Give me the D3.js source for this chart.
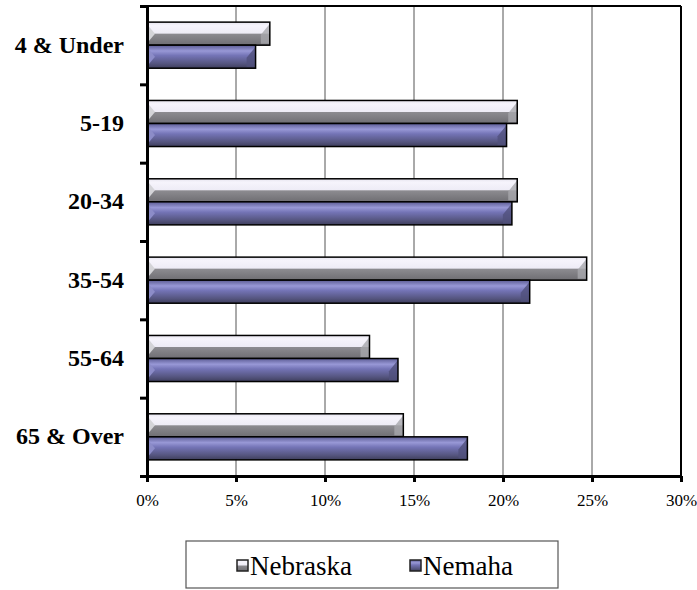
<!DOCTYPE html>
<html>
<head>
<meta charset="utf-8">
<script src="https://cdn.jsdelivr.net/npm/d3@7"></script>
<style>
  body { margin: 0; background: #fff; }
  svg { display: block; font-family: "Liberation Serif", "Times New Roman", serif; }
</style>
</head>
<body>
<svg id="chart"></svg>
<script>
const categories = ["4 & Under", "5-19", "20-34", "35-54", "55-64", "65 & Over"];
const seriesNames = ["Nebraska", "Nemaha"];
const nebraska = [6.9, 20.8, 20.8, 24.7, 12.5, 14.4];
const nemaha = [6.1, 20.2, 20.5, 21.5, 14.1, 18.0];
const xTicks = [0, 5, 10, 15, 20, 25, 30];

const data = categories.map((c, i) => ({
  cat: c,
  values: [
    { key: "Nebraska", value: nebraska[i] },
    { key: "Nemaha", value: nemaha[i] }
  ]
}));

const W = 697, H = 590;
const margin = { top: 6, right: 16, bottom: 114, left: 147 };
const width = W - margin.left - margin.right;
const height = H - margin.top - margin.bottom;

const svg = d3.select("#chart").attr("width", W).attr("height", H);

// gradients for the bevelled bars
const defs = svg.append("defs");
const gNeb = defs.append("linearGradient").attr("id", "gNeb").attr("x1", 0).attr("y1", 0).attr("x2", 0).attr("y2", 1);
gNeb.append("stop").attr("offset", "0%").attr("stop-color", "#e6e4ee");
gNeb.append("stop").attr("offset", "15%").attr("stop-color", "#f6f4fc");
gNeb.append("stop").attr("offset", "48%").attr("stop-color", "#eeecf6");
gNeb.append("stop").attr("offset", "52%").attr("stop-color", "#8c8b90");
gNeb.append("stop").attr("offset", "100%").attr("stop-color", "#6f6e73");

const gNem = defs.append("linearGradient").attr("id", "gNem").attr("x1", 0).attr("y1", 0).attr("x2", 0).attr("y2", 1);
gNem.append("stop").attr("offset", "0%").attr("stop-color", "#5c5c94");
gNem.append("stop").attr("offset", "25%").attr("stop-color", "#9898d6");
gNem.append("stop").attr("offset", "45%").attr("stop-color", "#7474b6");
gNem.append("stop").attr("offset", "80%").attr("stop-color", "#55557f");
gNem.append("stop").attr("offset", "100%").attr("stop-color", "#3e3e5c");

const g = svg.append("g").attr("transform", `translate(${margin.left},${margin.top})`);

const x = d3.scaleLinear().domain([0, 30]).range([0, width]);
const y0 = d3.scaleBand().domain(categories).range([0, height]).padding(0);
const y1 = d3.scaleBand().domain(seriesNames).range([0, y0.bandwidth()]).paddingInner(0).paddingOuter(0.7);
const yEdges = d3.scaleLinear().domain([0, categories.length]).range([0, height]);

// gridlines
g.append("g")
  .selectAll("line")
  .data(xTicks.filter(t => t > 0 && t < 30))
  .enter().append("line")
  .attr("x1", d => x(d)).attr("x2", d => x(d))
  .attr("y1", 0).attr("y2", height)
  .attr("stroke", "#555")
  .attr("stroke-width", 1);

// plot frame top and right
g.append("line").attr("x1", 0).attr("x2", width).attr("y1", 0).attr("y2", 0)
  .attr("stroke", "#000").attr("stroke-width", 2);
g.append("line").attr("x1", width).attr("x2", width).attr("y1", 0).attr("y2", height)
  .attr("stroke", "#000").attr("stroke-width", 2);

// bars
const groups = g.selectAll(".grp")
  .data(data)
  .enter().append("g")
  .attr("class", "grp")
  .attr("transform", d => `translate(0,${y0(d.cat)})`);

const bars = groups.selectAll(".bar")
  .data(d => d.values)
  .enter().append("g")
  .attr("class", "bar");

bars.append("rect")
  .attr("x", 0)
  .attr("y", d => y1(d.key))
  .attr("width", d => x(d.value))
  .attr("height", y1.bandwidth())
  .attr("fill", d => d.key === "Nebraska" ? "url(#gNeb)" : "url(#gNem)");

// right-end bevel
bars.append("path")
  .attr("d", d => {
    const xe = x(d.value), yt = y1(d.key) + 1.5, ym = y1(d.key) + y1.bandwidth() * 0.55, yb = y1(d.key) + y1.bandwidth() - 1.5;
    return `M${xe},${yt} L${xe},${yb} L${xe - 9},${yb} L${xe - 9},${ym} Z`;
  })
  .attr("fill", d => d.key === "Nebraska" ? "#a8a7ad" : "#50507c")
  .attr("opacity", 0.8);

// left-end bevel
bars.append("path")
  .attr("d", d => {
    const yt = y1(d.key) + 2, ym = y1(d.key) + y1.bandwidth() * 0.5, yb = y1(d.key) + y1.bandwidth() - 2;
    return `M0,${yt} L8,${ym} L0,${yb} Z`;
  })
  .attr("fill", d => d.key === "Nebraska" ? "#d4d4d8" : "#8c8cc8");

bars.append("rect")
  .attr("x", 0)
  .attr("y", d => y1(d.key))
  .attr("width", d => x(d.value))
  .attr("height", y1.bandwidth())
  .attr("fill", "none")
  .attr("stroke", "#000")
  .attr("stroke-width", 1.5);

// x axis
const xAxis = g.append("g")
  .attr("transform", `translate(0,${height})`)
  .call(d3.axisBottom(x).tickValues(xTicks).tickFormat(d => d + "%").tickSize(6).tickSizeOuter(0).tickPadding(12));
xAxis.select(".domain").attr("stroke", "#000").attr("stroke-width", 3);
xAxis.selectAll(".tick line").attr("stroke", "#000").attr("stroke-width", 3);
xAxis.selectAll("text")
  .attr("fill", "#000")
  .style("font-family", "'Liberation Serif', 'Times New Roman', serif")
  .style("font-size", "17px");

// y axis (ticks between categories)
const yAxis = g.append("g")
  .call(d3.axisLeft(yEdges).tickValues(d3.range(categories.length + 1)).tickFormat("").tickSize(7).tickSizeOuter(0));
yAxis.select(".domain").attr("stroke", "#000").attr("stroke-width", 3);
yAxis.selectAll(".tick line").attr("stroke", "#000").attr("stroke-width", 3);

g.append("g")
  .selectAll("text")
  .data(categories)
  .enter().append("text")
  .attr("x", -23)
  .attr("y", d => y0(d) + y0.bandwidth() / 2 - 1)
  .attr("dy", "0.35em")
  .attr("text-anchor", "end")
  .style("font-size", "24px")
  .style("font-weight", "bold")
  .text(d => d);

// legend
const legend = svg.append("g").attr("transform", "translate(186,541)");
legend.append("rect")
  .attr("x", 0).attr("y", 0)
  .attr("width", 372).attr("height", 47)
  .attr("fill", "#fff")
  .attr("stroke", "#555")
  .attr("stroke-width", 1.2);

const legItems = legend.selectAll(".li")
  .data(seriesNames)
  .enter().append("g")
  .attr("class", "li")
  .attr("transform", (d, i) => `translate(${i === 0 ? 51 : 224},0)`);

legItems.append("rect")
  .attr("x", 0).attr("y", 19)
  .attr("width", 11).attr("height", 11)
  .attr("fill", d => d === "Nebraska" ? "url(#gNeb)" : "url(#gNem)")
  .attr("stroke", "#222")
  .attr("stroke-width", 1.5);

legItems.append("text")
  .attr("x", 13)
  .attr("y", 34)
  .style("font-size", "27px")
  .text(d => d);
</script>
</body>
</html>
